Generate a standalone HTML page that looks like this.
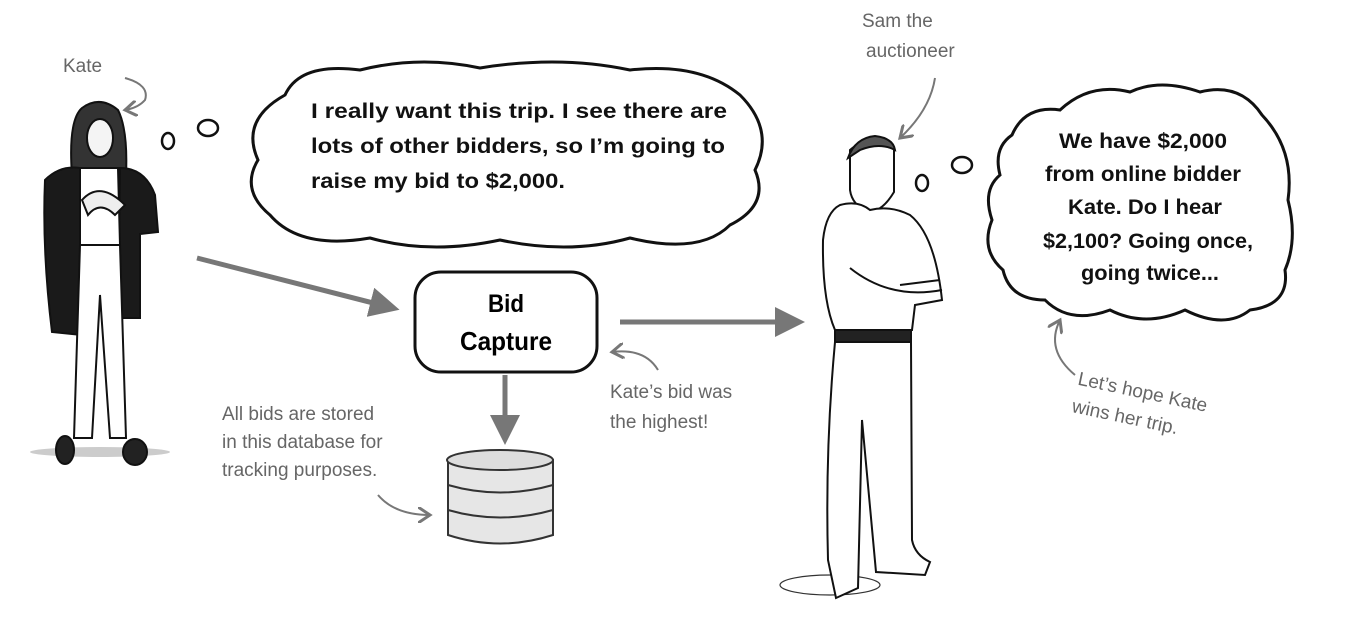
<!DOCTYPE html>
<html><head><meta charset="utf-8"><style>
html,body{margin:0;padding:0;background:#fff;width:1349px;height:619px;overflow:hidden}
svg{display:block}
.hw{font-family:"Liberation Sans",sans-serif;fill:#666;font-size:19px}
.bt{font-family:"Liberation Sans",sans-serif;font-weight:bold;fill:#111;font-size:21px}
.c{text-anchor:middle}
</style></head><body>
<svg width="1349" height="619" viewBox="0 0 1349 619" xmlns="http://www.w3.org/2000/svg">
<defs><marker id="ah" markerWidth="6" markerHeight="6" refX="3" refY="3" orient="auto" markerUnits="strokeWidth"><path d="M0,0 L6,3 L0,6 Z" fill="#777"/></marker>
<marker id="sa" markerWidth="8" markerHeight="8" refX="6" refY="4" orient="auto"><path d="M0,0 L6,4 L0,8" fill="none" stroke="#777" stroke-width="1.5"/></marker></defs>

<!-- Kate figure -->
<g stroke="#111" stroke-width="2" fill="#fff">
<ellipse cx="100" cy="452" rx="70" ry="5" fill="#ccc" stroke="none"/>
<path d="M72 175 Q68 120 82 108 Q100 95 118 110 Q128 130 126 175 Z" fill="#333"/>
<ellipse cx="100" cy="138" rx="13" ry="19" fill="#f4f4f4"/>
<path d="M45 180 Q60 165 80 168 L82 335 L52 332 Q42 250 45 180 Z" fill="#1a1a1a"/>
<path d="M120 168 Q145 168 155 195 L158 232 L140 234 L140 318 L118 318 Z" fill="#1a1a1a"/>
<path d="M80 168 L118 168 L120 245 L80 245 Z"/>
<path d="M80 245 L120 245 L126 438 L110 438 L100 295 L92 438 L74 438 Z"/>
<ellipse cx="65" cy="450" rx="9" ry="14" fill="#222"/>
<ellipse cx="135" cy="452" rx="12" ry="13" fill="#222"/>
<path d="M82 200 Q100 180 125 205 L115 215 Q100 200 88 215 Z" fill="#eee"/>
</g>

<!-- Sam figure -->
<g stroke="#111" stroke-width="2" fill="#fff">
<ellipse cx="830" cy="585" rx="50" ry="10" fill="none" stroke="#333" stroke-width="1.2"/>
<path d="M850 150 Q870 132 894 148 L894 192 Q882 212 868 212 Q852 205 850 190 Z"/>
<path d="M848 158 Q855 138 875 136 Q893 138 895 150 Q880 142 860 150 Z" fill="#555"/>
<path d="M840 205 Q858 200 870 210 Q890 205 910 215 Q935 235 942 300 L915 305 L912 330 L835 330 Q822 300 823 240 Q826 212 840 205 Z"/>
<path d="M850 268 Q890 300 942 290" fill="none"/>
<path d="M900 285 L940 280" fill="none"/>
<rect x="835" y="330" width="76" height="12" fill="#222"/>
<path d="M835 342 L911 342 L912 540 Q915 555 930 562 L925 575 L876 572 L862 420 L858 588 L836 598 L828 560 Q825 450 835 342 Z"/>
</g>

<!-- thought circles -->
<g fill="none" stroke="#111" stroke-width="2.5">
<ellipse cx="168" cy="141" rx="6" ry="8"/>
<ellipse cx="208" cy="128" rx="10" ry="8"/>
<ellipse cx="922" cy="183" rx="6" ry="8"/>
<ellipse cx="962" cy="165" rx="10" ry="8"/>
</g>

<!-- cloud 1 -->
<path d="M285 95 Q300 62 360 70 Q420 55 480 68 Q560 55 630 70 Q700 62 740 95 Q775 130 755 170 Q770 205 730 225 Q700 255 630 238 Q570 255 500 240 Q430 255 370 238 Q300 250 270 215 Q240 190 258 160 Q240 120 285 95 Z" fill="#fff" stroke="#111" stroke-width="3"/>
<text class="bt" x="311" y="118" textLength="416" lengthAdjust="spacingAndGlyphs">I really want this trip. I see there are</text>
<text class="bt" x="311" y="153" textLength="414" lengthAdjust="spacingAndGlyphs">lots of other bidders, so I’m going to</text>
<text class="bt" x="311" y="188" textLength="254" lengthAdjust="spacingAndGlyphs">raise my bid to $2,000.</text>

<!-- cloud 2 -->
<path d="M1012 135 Q1025 105 1060 110 Q1090 82 1130 92 Q1160 78 1200 92 Q1240 82 1262 115 Q1295 150 1288 200 Q1298 240 1285 270 Q1290 305 1250 310 Q1225 330 1185 310 Q1145 328 1110 310 Q1070 325 1045 300 Q1010 300 1003 270 Q980 250 992 220 Q982 190 1000 175 Q993 148 1012 135 Z" fill="#fff" stroke="#111" stroke-width="3"/>
<text class="bt c" x="1143" y="148" textLength="168" lengthAdjust="spacingAndGlyphs">We have $2,000</text>
<text class="bt c" x="1143" y="181" textLength="196" lengthAdjust="spacingAndGlyphs">from online bidder</text>
<text class="bt c" x="1145" y="214" textLength="154" lengthAdjust="spacingAndGlyphs">Kate. Do I hear</text>
<text class="bt c" x="1148" y="248" textLength="210" lengthAdjust="spacingAndGlyphs">$2,100? Going once,</text>
<text class="bt c" x="1150" y="280" textLength="138" lengthAdjust="spacingAndGlyphs">going twice...</text>

<!-- arrows -->
<g stroke="#777" stroke-width="5" fill="none">
<line x1="197" y1="258" x2="385" y2="306" marker-end="url(#ah)"/>
<line x1="620" y1="322" x2="790" y2="322" marker-end="url(#ah)"/>
<line x1="505" y1="375" x2="505" y2="430" marker-end="url(#ah)"/>
</g>

<!-- Bid Capture -->
<rect x="415" y="272" width="182" height="100" rx="26" fill="#fff" stroke="#111" stroke-width="3"/>
<text x="506" y="312" textLength="36" lengthAdjust="spacingAndGlyphs" style="font-family:'Liberation Sans',sans-serif;font-weight:bold;font-size:25px;text-anchor:middle">Bid</text>
<text x="506" y="350" textLength="92" lengthAdjust="spacingAndGlyphs" style="font-family:'Liberation Sans',sans-serif;font-weight:bold;font-size:26px;text-anchor:middle">Capture</text>

<!-- database -->
<g stroke="#333" stroke-width="2">
<path d="M448 460 L448 535 Q500 552 553 535 L553 460 Z" fill="#e6e6e6"/>
<ellipse cx="500" cy="460" rx="53" ry="10" fill="#ddd"/>
<path d="M448 485 Q500 500 553 485" fill="none"/>
<path d="M448 510 Q500 525 553 510" fill="none"/>
</g>

<!-- handwritten labels -->
<text class="hw" x="63" y="72">Kate</text>
<path d="M125 78 Q150 85 145 100 Q138 108 125 110" fill="none" stroke="#777" stroke-width="2" marker-end="url(#sa)"/>
<text class="hw" x="862" y="27">Sam the</text>
<text class="hw" x="866" y="57">auctioneer</text>
<path d="M935 78 Q930 110 900 138" fill="none" stroke="#777" stroke-width="2" marker-end="url(#sa)"/>
<text class="hw" x="222" y="420">All bids are stored</text>
<text class="hw" x="222" y="448">in this database for</text>
<text class="hw" x="222" y="476">tracking purposes.</text>
<path d="M378 495 Q395 515 430 515" fill="none" stroke="#777" stroke-width="2" marker-end="url(#sa)"/>
<text class="hw" x="610" y="398">Kate’s bid was</text>
<text class="hw" x="610" y="428">the highest!</text>
<path d="M658 370 Q645 348 612 352" fill="none" stroke="#777" stroke-width="2" marker-end="url(#sa)"/>
<g transform="rotate(12 1080 380)"><text class="hw" x="1078" y="385">Let’s hope Kate</text>
<text class="hw" x="1078" y="413">wins her trip.</text></g>
<path d="M1075 375 Q1045 350 1060 320" fill="none" stroke="#777" stroke-width="2" marker-end="url(#sa)"/>
</svg>
</body></html>
